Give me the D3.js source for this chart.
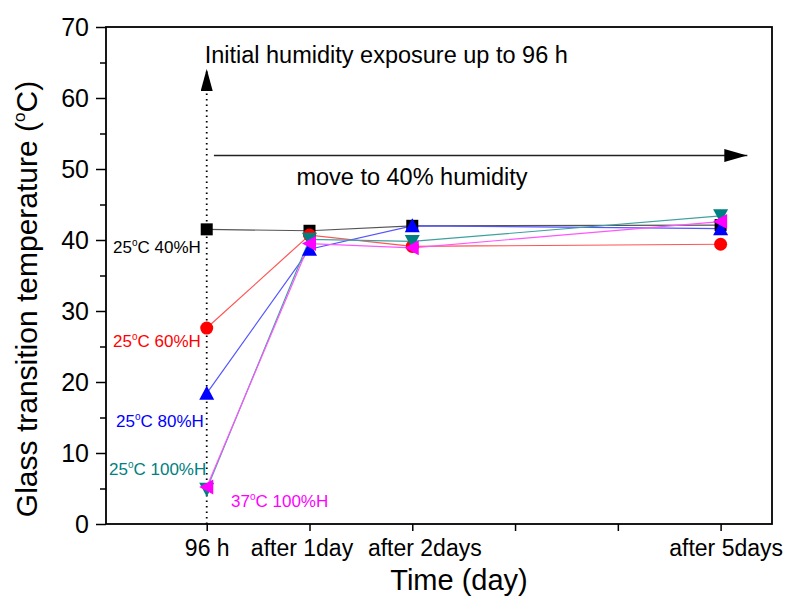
<!DOCTYPE html>
<html>
<head>
<meta charset="utf-8">
<script src="https://cdn.jsdelivr.net/npm/d3@7"></script>
<style>
  html, body { margin: 0; padding: 0; background: #ffffff; }
  svg { display: block; font-family: "Liberation Sans", Arial, sans-serif; }
</style>
</head>
<body>
<svg id="chart" width="789" height="604"></svg>
<script>
// Time points (position on the day axis) and their labels
const timePos = [0, 1, 2, 5];
const timeLabels = ["96 h", "after 1day", "after 2days", "after 5days"];
const xTickPos = [0, 1, 2, 3, 4, 5];

// Glass transition temperature (°C) per exposure condition
const tg25c40 = [41.5, 41.3, 42.0, 42.1];
const tg25c60 = [27.6, 40.7, 39.1, 39.4];
const tg25c80 = [18.4, 38.7, 42.0, 41.6];
const tg25c100 = [4.9, 40.1, 39.8, 43.4];
const tg37c100 = [5.2, 39.5, 38.9, 42.6];

const yTicks = [0, 10, 20, 30, 40, 50, 60, 70];
const yMinorTicks = [5, 15, 25, 35, 45, 55, 65];

const series = [
  { temp: "25", hum: "40%H", values: tg25c40, marker: "square", color: "#000000", line: "#555555" },
  { temp: "25", hum: "60%H", values: tg25c60, marker: "circle", color: "#ff0000", line: "#ff5555" },
  { temp: "25", hum: "80%H", values: tg25c80, marker: "up", color: "#0000ff", line: "#5555ff" },
  { temp: "25", hum: "100%H", values: tg25c100, marker: "down", color: "#008080", line: "#40a0a0" },
  { temp: "37", hum: "100%H", values: tg37c100, marker: "left", color: "#ff00ff", line: "#ff55ff" }
];

const svg = d3.select("#chart");
const L = 106, R = 772, T = 27, B = 524;

const x = d3.scaleLinear().domain([-0.98, 5.5]).range([L, R]);
const y = d3.scaleLinear().domain([0, 70]).range([B, T]);

// Arrow heads
const defs = svg.append("defs");
defs.append("marker").attr("id", "headH")
  .attr("viewBox", "0 0 10 10").attr("refX", 10).attr("refY", 5)
  .attr("markerWidth", 23).attr("markerHeight", 13).attr("markerUnits", "userSpaceOnUse")
  .attr("orient", "auto").attr("preserveAspectRatio", "none")
  .append("path").attr("d", "M0,0 L10,5 L0,10 Z").attr("fill", "#000");
defs.append("marker").attr("id", "headV")
  .attr("viewBox", "0 0 10 10").attr("refX", 10).attr("refY", 5)
  .attr("markerWidth", 22).attr("markerHeight", 12).attr("markerUnits", "userSpaceOnUse")
  .attr("orient", "auto").attr("preserveAspectRatio", "none")
  .append("path").attr("d", "M0,0 L10,5 L0,10 Z").attr("fill", "#000");

// Axes
const yAxis = d3.axisLeft(y).tickValues(yTicks).tickSize(10).tickPadding(7).tickFormat(d3.format("d"));
const gy = svg.append("g").attr("transform", `translate(${L},0)`).call(yAxis);
gy.select(".domain").remove();
gy.selectAll("line").attr("stroke", "#000").attr("stroke-width", 1.5);
gy.selectAll("text").attr("font-size", 25).attr("fill", "#000");

const gyMinor = svg.append("g").attr("transform", `translate(${L},0)`)
  .call(d3.axisLeft(y).tickValues(yMinorTicks).tickSize(6).tickFormat(""));
gyMinor.select(".domain").remove();
gyMinor.selectAll("line").attr("stroke", "#000").attr("stroke-width", 1.5);

const xAxis = d3.axisBottom(x).tickValues(xTickPos).tickSize(7).tickPadding(9)
  .tickFormat(d => { const i = timePos.indexOf(d); return i >= 0 ? timeLabels[i] : ""; });
const gx = svg.append("g").attr("transform", `translate(0,${B})`).call(xAxis);
gx.select(".domain").remove();
gx.selectAll("line").attr("stroke", "#000").attr("stroke-width", 1.5);
// small horizontal nudges keep the long day labels apart
const labelShift = { 0: 0, 1: -8, 2: 12, 5: 5 };
gx.selectAll("text").attr("font-size", 23).attr("fill", "#000")
  .attr("dx", d => labelShift[d] || 0);

// Frame
svg.append("rect").attr("x", L).attr("y", T).attr("width", R - L).attr("height", B - T)
  .attr("fill", "none").attr("stroke", "#000").attr("stroke-width", 1.8);

// Axis titles
svg.append("text").attr("x", 459).attr("y", 590).attr("text-anchor", "middle")
  .attr("font-size", 29).attr("fill", "#000").text("Time (day)");

const yt = svg.append("text").attr("transform", "translate(37,299) rotate(-90)")
  .attr("text-anchor", "middle").attr("font-size", 30).attr("fill", "#000");
yt.append("tspan").text("Glass transition temperature (");
yt.append("tspan").attr("font-size", 17).attr("dy", -12).text("o");
yt.append("tspan").attr("dy", 12).text("C)");

// Annotations: initial exposure (dotted) and move to 40% humidity
svg.append("line")
  .attr("x1", x(0)).attr("y1", y(0)).attr("x2", x(0)).attr("y2", y(64.1))
  .attr("stroke", "#000").attr("stroke-width", 1.8).attr("stroke-dasharray", "1.5,4")
  .attr("marker-end", "url(#headV)");
svg.append("text").attr("x", x(-0.02)).attr("y", 63).attr("font-size", 23.5).attr("fill", "#000")
  .text("Initial humidity exposure up to 96 h");

svg.append("line")
  .attr("x1", x(0.07)).attr("y1", y(51.9)).attr("x2", x(5.26)).attr("y2", y(51.9))
  .attr("stroke", "#222").attr("stroke-width", 1.6)
  .attr("marker-end", "url(#headH)");
svg.append("text").attr("x", 412).attr("y", 185).attr("text-anchor", "middle")
  .attr("font-size", 23.5).attr("fill", "#000").text("move to 40% humidity");

// Series lines
const line = d3.line().x((d, i) => x(timePos[i])).y(d => y(d));
series.forEach(s => {
  svg.append("path").datum(s.values).attr("d", line)
    .attr("fill", "none").attr("stroke", s.line).attr("stroke-width", 1.2);
});

// Markers
const sz = 6.5;
function drawMarker(g, type, cx, cy, color) {
  if (type === "square") {
    g.append("rect").attr("x", cx - 6).attr("y", cy - 6).attr("width", 12).attr("height", 12).attr("fill", color);
  } else if (type === "circle") {
    g.append("circle").attr("cx", cx).attr("cy", cy).attr("r", 6.5).attr("fill", color);
  } else {
    let p;
    if (type === "up") p = [[cx, cy - sz - 1], [cx + sz + 1, cy + sz], [cx - sz - 1, cy + sz]];
    if (type === "down") p = [[cx - sz - 1, cy - sz], [cx + sz + 1, cy - sz], [cx, cy + sz + 1]];
    if (type === "left") p = [[cx - sz - 1, cy], [cx + sz, cy - sz - 1], [cx + sz, cy + sz + 1]];
    g.append("path").attr("d", "M" + p.map(q => q.join(",")).join("L") + "Z").attr("fill", color);
  }
}
series.forEach(s => {
  const g = svg.append("g");
  s.values.forEach((v, i) => drawMarker(g, s.marker, x(timePos[i]), y(v), s.color));
});

// Condition labels
const condLabels = [
  { s: series[0], x: 113, y: 253 },
  { s: series[1], x: 113, y: 347 },
  { s: series[2], x: 116, y: 427 },
  { s: series[3], x: 109, y: 475 },
  { s: series[4], x: 231, y: 507 }
];
condLabels.forEach(c => {
  const t = svg.append("text").attr("x", c.x).attr("y", c.y).attr("font-size", 17).attr("fill", c.s.color);
  t.append("tspan").text(c.s.temp);
  t.append("tspan").attr("font-size", 10).attr("dy", -7).text("o");
  t.append("tspan").attr("dy", 7).text("C " + c.s.hum);
});
</script>
</body>
</html>
